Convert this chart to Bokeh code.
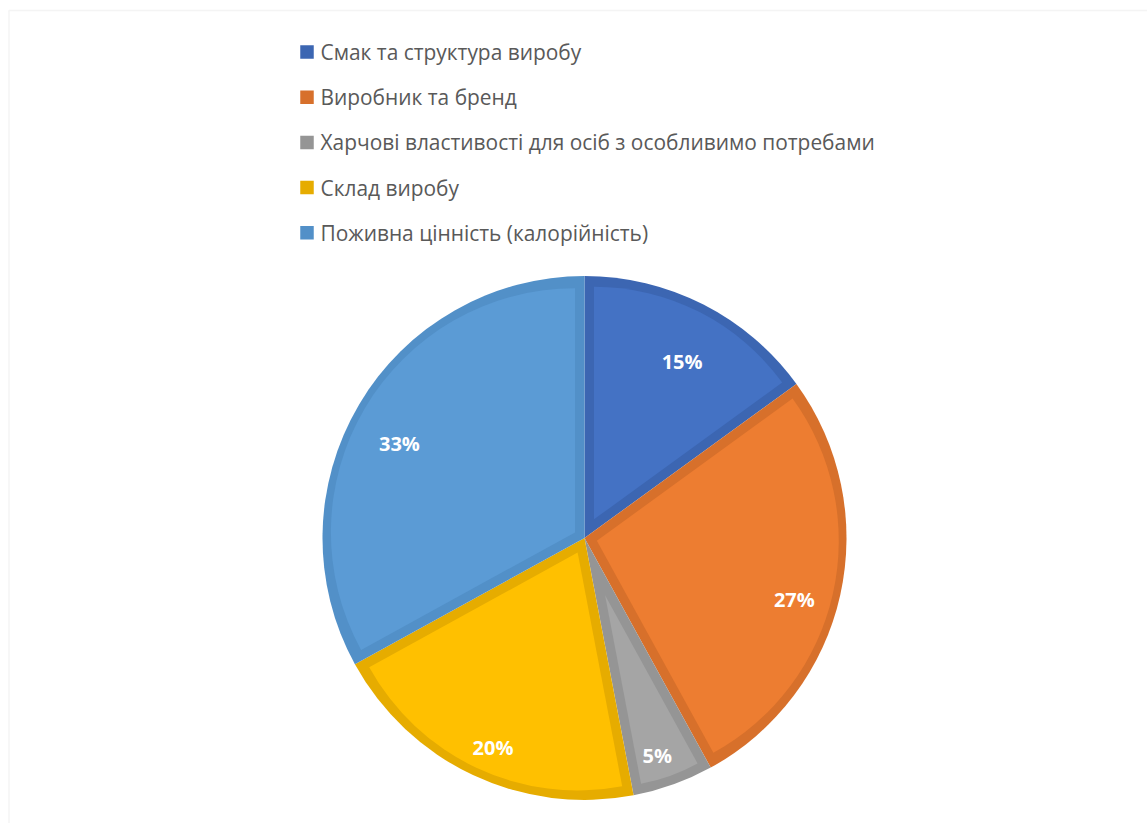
import numpy as np
from bokeh.plotting import figure
from bokeh.models import Range1d, BoxAnnotation, ColumnDataSource
from bokeh.core.properties import value
from bokeh.embed import file_html
from bokeh.resources import INLINE

# ---- data ----
categories = [
    "Смак та структура виробу",
    "Виробник та бренд",
    "Харчові властивості для осіб з особливимо потребами",
    "Склад виробу",
    "Поживна цінність (калорійність)",
]
values = [15, 27, 5, 20, 33]
fill_colors = ["#4472C4", "#ED7D31", "#A5A5A5", "#FFC000", "#5B9BD5"]
edge_colors = ["#3C66B2", "#D7702B", "#959595", "#E6AC00", "#5290C8"]

W, H = 1147, 823
p = figure(width=W, height=H, x_range=Range1d(0, W), y_range=Range1d(0, H),
           output_backend="svg", toolbar_location=None, min_border=0,
           x_axis_location=None, y_axis_location=None)
p.grid.visible = False
p.outline_line_color = None
p.background_fill_color = "white"
p.border_fill_color = "white"

# chart frame
p.add_layout(BoxAnnotation(left=8.5, right=W + 50, top=H - 10.0, bottom=-50,
                           fill_alpha=0, line_color="#D9D9D9", line_width=1.5))

# ---- pie ----
cx, cy, R, bw = 584.0, H - 537.5, 262.0, 9.5
vals = np.array(values, dtype=float)
frac = vals / vals.sum()
cum = np.concatenate([[0.0], np.cumsum(frac)])
start = np.pi / 2 - cum[:-1] * 2 * np.pi
end = np.pi / 2 - cum[1:] * 2 * np.pi
mid = (start + end) / 2
half = (start - end) / 2

# outer wedge (border colour)
p.wedge(x=cx, y=cy, radius=R, start_angle=start, end_angle=end,
        direction="clock", fill_color=edge_colors, line_color=None)

# inner wedge (fill colour), inset by the border width
d = bw / np.sin(half)
ox = cx + d * np.cos(mid)
oy = cy + d * np.sin(mid)
r1 = R - bw - d
r2 = -d * np.cos(half) + np.sqrt((d * np.cos(half)) ** 2 - d ** 2 + (R - bw) ** 2)
r_in = (r1 + r2) / 2
p.wedge(x=ox, y=oy, radius=r_in, start_angle=start, end_angle=end,
        direction="clock", fill_color=fill_colors, line_color=None)

# data labels
lr = 215.0
lab = ColumnDataSource(dict(
    x=cx + lr * np.cos(mid), y=cy + lr * np.sin(mid),
    t=[f"{v:g}%" for v in values]))
p.text(x="x", y="y", text="t", source=lab, text_color="white",
       text_font=value("Open Sans"), text_font_style="bold",
       text_font_size="20px", text_align="center", text_baseline="middle",
       y_offset=15)

# ---- legend ----
n = len(categories)
ly = H - (51.5 + 45.2 * np.arange(n))
leg = ColumnDataSource(dict(x=[306.5] * n, tx=[320.0] * n, y=ly,
                            c=edge_colors, t=categories))
p.rect(x="x", y="y", width=13.5, height=13.5, source=leg,
       fill_color="c", line_color=None)
p.text(x="tx", y="y", text="t", source=leg, text_color="#595959",
       text_font=value("Open Sans"), text_font_size="20.9px",
       text_align="left", text_baseline="middle")

open("out.html", "w").write(file_html(p, INLINE))
